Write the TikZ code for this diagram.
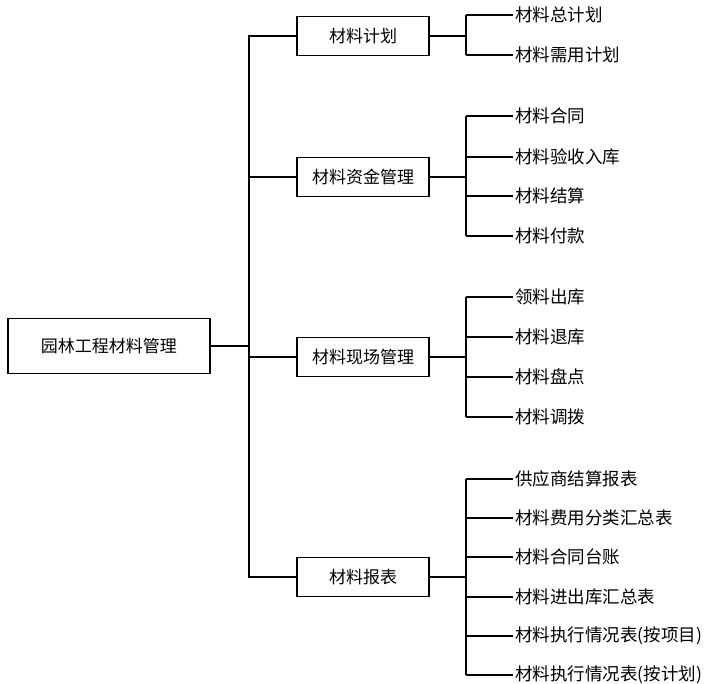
\documentclass[tikz,border=0pt]{standalone}
\usepackage{fontspec}
\newfontfamily\cjk{Noto Sans CJK SC}
\begin{document}
\begin{tikzpicture}[x=1pt,y=-1pt,
  txt/.style={font=\cjk\fontsize{17}{19}\selectfont},
  box/.style={txt,draw,line width=1.5pt,minimum width=132pt,minimum height=39pt,inner sep=0pt},
  rootbox/.style={box,minimum width=202pt,minimum height=55pt},
  leaf/.style={font=\cjk\fontsize{17.5}{19}\selectfont,anchor=west,inner sep=2pt},
  conn/.style={line width=1.5pt}]
\useasboundingbox (0,0) rectangle (705,684);
\node[rootbox] (root) at (109,346) {园林工程材料管理};
\node[box] (p) at (363,36) {材料计划};
\node[box] (z) at (363,177) {材料资金管理};
\node[box] (x) at (363,357) {材料现场管理};
\node[box] (b) at (363,577) {材料报表};
\coordinate (t) at (249,346);
\draw[conn] (root.east) -- (t);
\draw[conn] (p.west) -- (p.west -| t) -- (b.west -| t) -- (b.west);
\draw[conn] (z.west) -- (z.west -| t);
\draw[conn] (x.west) -- (x.west -| t);
% leaves
\node[leaf] (p1) at (513,15) {材料总计划};
\node[leaf] (p2) at (513,55) {材料需用计划};
\node[leaf] (z1) at (513,116) {材料合同};
\node[leaf] (z2) at (513,157) {材料验收入库};
\node[leaf] (z3) at (513,196) {材料结算};
\node[leaf] (z4) at (513,236) {材料付款};
\node[leaf] (x1) at (513,297) {领料出库};
\node[leaf] (x2) at (513,337) {材料退库};
\node[leaf] (x3) at (513,377) {材料盘点};
\node[leaf] (x4) at (513,417) {材料调拨};
\node[leaf] (b1) at (513,479) {供应商结算报表};
\node[leaf] (b2) at (513,518) {材料费用分类汇总表};
\node[leaf] (b3) at (513,557) {材料合同台账};
\node[leaf] (b4) at (513,597) {材料进出库汇总表};
\node[leaf] (b5) at (513,636) {材料执行情况表(按项目)};
\node[leaf] (b6) at (513,675) {材料执行情况表(按计划)};
\coordinate (k) at (466,0);
% brackets
\draw[conn] (p.east) -- (p.east -| k);
\draw[conn] (k |- p1.west) -- (k |- p2.west);
\foreach \n in {p1,p2} \draw[conn] (k |- \n.west) -- (\n.west);
\draw[conn] (z.east) -- (z.east -| k);
\draw[conn] (k |- z1.west) -- (k |- z4.west);
\foreach \n in {z1,z2,z3,z4} \draw[conn] (k |- \n.west) -- (\n.west);
\draw[conn] (x.east) -- (x.east -| k);
\draw[conn] (k |- x1.west) -- (k |- x4.west);
\foreach \n in {x1,x2,x3,x4} \draw[conn] (k |- \n.west) -- (\n.west);
\draw[conn] (b.east) -- (b.east -| k);
\draw[conn] (k |- b1.west) -- (k |- b6.west);
\foreach \n in {b1,b2,b3,b4,b5,b6} \draw[conn] (k |- \n.west) -- (\n.west);
\end{tikzpicture}
\end{document}
